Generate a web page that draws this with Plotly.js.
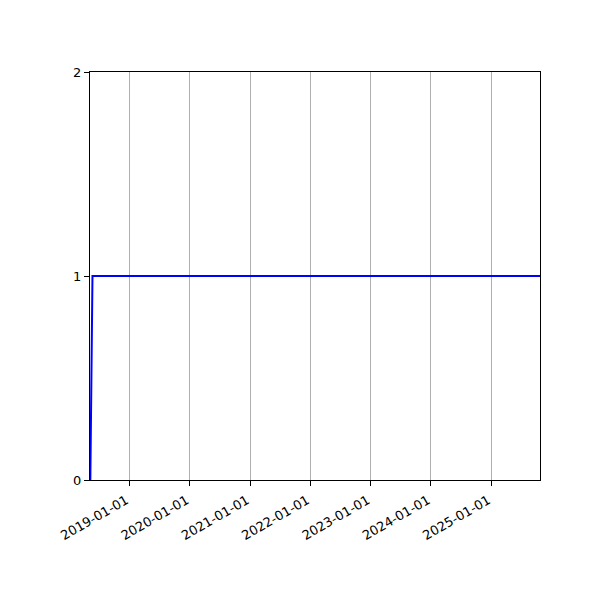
<!DOCTYPE html>
<html>
<head>
<meta charset="utf-8">
<script src="https://cdn.plot.ly/plotly-3.0.1.min.js"></script>
<style>
  html, body { margin: 0; padding: 0; background: #fff; }
  #chart { width: 600px; height: 600px; }
</style>
</head>
<body>
<div id="chart"></div>
<script>
// series
const dates = ["2018-05-10", "2018-05-23", "2025-10-23"];
const values = [0, 1, 1];

// axis ticks
const xTicks = ["2019-01-01", "2020-01-01", "2021-01-01", "2022-01-01",
                "2023-01-01", "2024-01-01", "2025-01-01"];
const yTicks = [0, 1, 2];

let trace = {
    x: dates,
    y: values,
    type: 'scatter',
    mode: 'lines',
    line: { color: '#0000ff', width: 2 },
    hoverinfo: 'skip'
};

let layout = {
    width: 600,
    height: 600,
    showlegend: false,
    paper_bgcolor: '#ffffff',
    plot_bgcolor: '#ffffff',
    font: { family: 'DejaVu Sans', size: 13, color: '#000000' },
    margin: { l: 90, r: 60, t: 72, b: 120 },
    xaxis: {
        type: 'date',
        range: ["2018-05-08", "2025-10-23"],
        tickvals: xTicks,
        ticktext: xTicks,
        tickangle: -30,
        ticklabelshift: -3,
        ticklabelstandoff: 2,
        ticks: 'outside',
        ticklen: 5,
        tickwidth: 1,
        tickcolor: '#000',
        showline: true,
        linecolor: '#000',
        linewidth: 1,
        mirror: true,
        showgrid: true,
        gridcolor: '#b0b0b0',
        gridwidth: 1,
        zeroline: false
    },
    yaxis: {
        range: [0, 2],
        tickvals: yTicks,
        ticktext: yTicks.map(String),
        ticks: 'outside',
        ticklen: 5,
        tickwidth: 1,
        tickcolor: '#000',
        showline: true,
        linecolor: '#000',
        linewidth: 1,
        mirror: true,
        showgrid: false,
        zeroline: false
    }
};

Plotly.newPlot('chart', [trace], layout, { displayModeBar: false, staticPlot: true });
</script>
</body>
</html>
